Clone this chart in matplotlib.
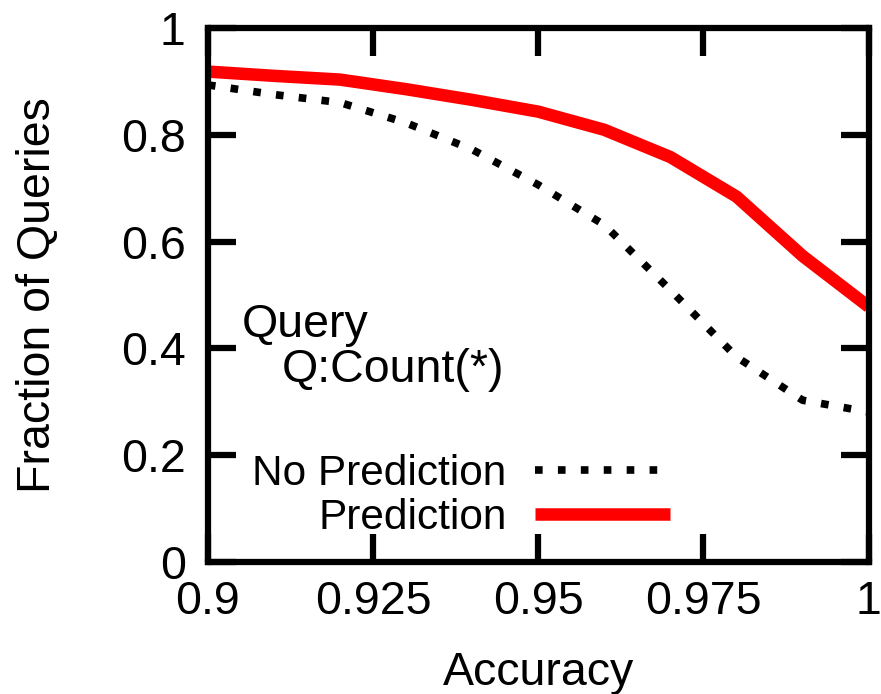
import matplotlib
matplotlib.use('Agg')
import matplotlib.pyplot as plt

# data
accuracy = [0.90, 0.91, 0.92, 0.93, 0.94, 0.95, 0.96, 0.97, 0.98, 0.99, 1.00]
no_prediction = [0.893, 0.875, 0.86, 0.822, 0.772, 0.706, 0.631, 0.509, 0.384, 0.303, 0.281]
prediction = [0.918, 0.91, 0.903, 0.885, 0.865, 0.843, 0.809, 0.758, 0.684, 0.573, 0.478]
xticks = [0.9, 0.925, 0.95, 0.975, 1.0]
xtick_labels = ['0.9', '0.925', '0.95', '0.975', '1']
yticks = [0, 0.2, 0.4, 0.6, 0.8, 1.0]
ytick_labels = ['0', '0.2', '0.4', '0.6', '0.8', '1']

plt.rcParams['font.family'] = ['Liberation Sans', 'DejaVu Sans']

fig = plt.figure(figsize=(8.81, 6.94), dpi=100)
ax = fig.add_axes([0.236, 0.190, 0.750, 0.770])

ax.plot(accuracy, no_prediction, color='black', lw=5.5, linestyle=(0, (1, 2.0)),
        dash_capstyle='butt', label='No Prediction')
ax.plot(accuracy, prediction, color='#ff0000', lw=9, solid_capstyle='butt',
        label='Prediction')

ax.set_xlim(0.9, 1.0)
ax.set_ylim(0, 1)
ax.set_xticks(xticks)
ax.set_xticklabels(xtick_labels)
ax.set_yticks(yticks)
ax.set_yticklabels(ytick_labels)
ax.tick_params(direction='in', length=20, width=4.5, labelsize=33.5,
               top=True, right=True)
ax.tick_params(axis='x', pad=13)
ax.tick_params(axis='y', pad=16)
for s in ax.spines.values():
    s.set_linewidth(4.5)

ax.set_xlabel('Accuracy', fontsize=33.5, labelpad=19)
ax.set_ylabel('Fraction of Queries', fontsize=33.5, labelpad=44)

ax.text(0.0514, 0.421, 'Query', transform=ax.transAxes, fontsize=33.5, va='baseline')
ax.text(0.112, 0.337, 'Q:Count(*)', transform=ax.transAxes, fontsize=33.5, va='baseline')

ax.legend(loc='lower right', bbox_to_anchor=(0.70, 0.045), frameon=False,
          fontsize=30.5, markerfirst=False, handlelength=3.2, handletextpad=0.67,
          labelspacing=0.1, borderpad=0, borderaxespad=0)

fig.savefig('out.png', dpi=100)
